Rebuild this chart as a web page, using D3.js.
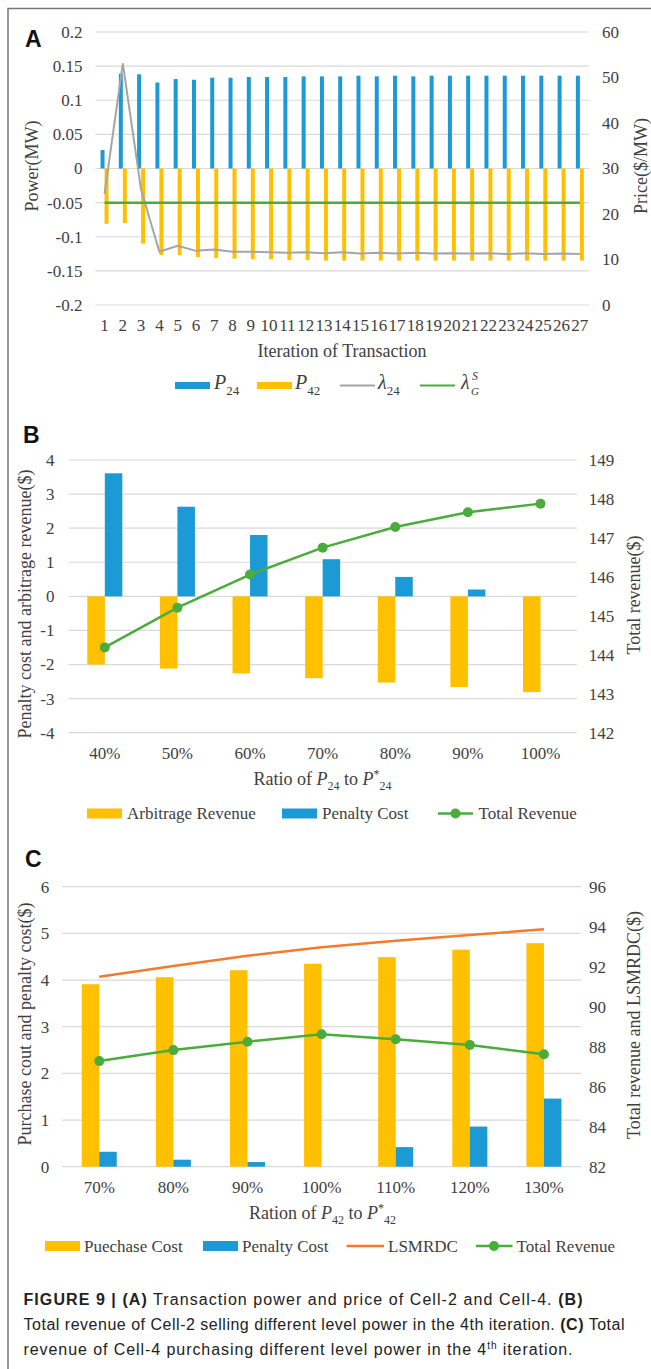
<!DOCTYPE html>
<html>
<head>
<meta charset="utf-8">
<script src="https://cdn.jsdelivr.net/npm/d3@7"></script>
<style>
  body { margin: 0; background: #fff; }
  svg { display: block; }
</style>
</head>
<body>
<div id="chart"></div>
<script>

// ---- panel A: transaction power and price per iteration
var iterations = ["1","2","3","4","5","6","7","8","9","10","11","12","13","14",
                  "15","16","17","18","19","20","21","22","23","24","25","26","27"];
var p24 = [0.027, 0.139, 0.138, 0.126, 0.131, 0.130, 0.133, 0.133, 0.134, 0.134, 0.134, 0.135, 0.135, 0.135,
           0.136, 0.135, 0.136, 0.135, 0.136, 0.136, 0.136, 0.136, 0.136, 0.136, 0.136, 0.136, 0.136];
var p42 = [-0.081, -0.080, -0.110, -0.127, -0.127, -0.130, -0.131, -0.132, -0.133, -0.133, -0.134, -0.134, -0.135, -0.135,
           -0.135, -0.135, -0.135, -0.135, -0.135, -0.135, -0.135, -0.135, -0.135, -0.135, -0.135, -0.135, -0.135];
var lambda24 = [24.4, 53.1, 25.3, 11.7, 13.0, 11.9, 12.2, 11.7, 11.7, 11.6, 11.5, 11.6, 11.4, 11.6,
                11.3, 11.5, 11.3, 11.5, 11.3, 11.4, 11.3, 11.4, 11.2, 11.4, 11.2, 11.3, 11.2];
var lambdaG = [22.5, 22.5, 22.5, 22.5, 22.5, 22.5, 22.5, 22.5, 22.5, 22.5, 22.5, 22.5, 22.5, 22.5,
               22.5, 22.5, 22.5, 22.5, 22.5, 22.5, 22.5, 22.5, 22.5, 22.5, 22.5, 22.5, 22.5];
var powerTicks = [-0.2, -0.15, -0.1, -0.05, 0, 0.05, 0.1, 0.15, 0.2];
var priceTicks = [0, 10, 20, 30, 40, 50, 60];

// ---- panel B: Cell-2 selling
var ratiosB = ["40%", "50%", "60%", "70%", "80%", "90%", "100%"];
var arbitrage = [-2.0, -2.12, -2.26, -2.4, -2.53, -2.66, -2.81];
var penaltyB = [3.61, 2.63, 1.80, 1.09, 0.57, 0.20, 0];
var totalB = [144.19, 145.21, 146.06, 146.75, 147.28, 147.66, 147.88];
var costTicksB = [-4, -3, -2, -1, 0, 1, 2, 3, 4];
var revTicksB = [142, 143, 144, 145, 146, 147, 148, 149];

// ---- panel C: Cell-4 purchasing
var ratiosC = ["70%", "80%", "90%", "100%", "110%", "120%", "130%"];
var purchase = [3.91, 4.06, 4.21, 4.35, 4.49, 4.65, 4.79];
var penaltyC = [0.32, 0.15, 0.10, 0, 0.42, 0.86, 1.46];
var lsmrdc = [91.5, 92.03, 92.55, 92.97, 93.3, 93.58, 93.87];
var totalC = [87.28, 87.83, 88.25, 88.62, 88.37, 88.09, 87.62];
var costTicksC = [0, 1, 2, 3, 4, 5, 6];
var revTicksC = [82, 84, 86, 88, 90, 92, 94, 96];


var W = 651, H = 1369;
var serif = "'Liberation Serif', 'Times New Roman', serif";
var sans = "'Liberation Sans', Arial, sans-serif";
var textCol = "#404040", gridCol = "#d9d9d9";
var blue = "#1b9ad6", gold = "#ffc000", gray = "#a5a5a5", green = "#4aac3c", orange = "#f47a2e";
var plain = function(d) { return String(d); };

var svg = d3.select("#chart").append("svg")
    .attr("width", W)
    .attr("height", H);

// frame (only top and left edges are visible in the crop)
svg.append("path")
    .attr("d", "M8,1369V8.5H651")
    .attr("fill", "none")
    .attr("stroke", "#777")
    .attr("stroke-width", 1.5);

function grid(y, ticks, x0, x1) {
    svg.append("g").selectAll("line")
        .data(ticks).enter()
        .append("line")
        .attr("x1", x0).attr("x2", x1)
        .attr("y1", function(t) { return y(t); })
        .attr("y2", function(t) { return y(t); })
        .attr("stroke", gridCol)
        .attr("stroke-width", 1.2);
}

function styleAxis(g) {
    g.attr("font-family", null).attr("font-size", null);
    g.select(".domain").remove();
    g.selectAll("text")
        .style("font-family", serif)
        .style("font-size", "17px")
        .attr("fill", textCol);
}

function vTitle(txt, x, y) {
    svg.append("text")
        .attr("transform", "translate(" + x + "," + y + ") rotate(-90)")
        .attr("text-anchor", "middle")
        .style("font-family", serif)
        .style("font-size", "18px")
        .attr("fill", textCol)
        .text(txt);
}

function panelLabel(txt, x, y) {
    svg.append("text")
        .attr("x", x).attr("y", y)
        .style("font-family", sans)
        .style("font-weight", "bold")
        .style("font-size", "23px")
        .attr("fill", "#111")
        .text(txt);
}

function legendText(txt, x, y) {
    svg.append("text")
        .attr("x", x).attr("y", y)
        .style("font-family", serif)
        .style("font-size", "17px")
        .attr("fill", textCol)
        .text(txt);
}

// x title with "P_ab to P*_ab"
function ratioTitle(prefix, sub, cx, y) {
    var t = svg.append("text")
        .attr("x", cx).attr("y", y)
        .attr("text-anchor", "middle")
        .style("font-family", serif)
        .style("font-size", "18px")
        .attr("fill", textCol);
    t.append("tspan").text(prefix);
    t.append("tspan").style("font-style", "italic").text("P");
    t.append("tspan").style("font-size", "12px").attr("dy", 5).text(sub);
    t.append("tspan").attr("dy", -5).text(" to ");
    t.append("tspan").style("font-style", "italic").text("P");
    t.append("tspan").style("font-size", "12px").attr("dy", -7).text("*");
    t.append("tspan").style("font-size", "12px").attr("dy", 12).text(sub);
}

// =============== PANEL A ===============
var xA = d3.scaleBand().domain(iterations).range([95.4, 589]);
var yA = d3.scaleLinear().domain([-0.2, 0.2]).range([305, 32]);
var yA2 = d3.scaleLinear().domain([0, 60]).range([305, 32]);
var cA = function(i) { return xA(iterations[i]) + xA.bandwidth() / 2; };
var bwA = 4;

panelLabel("A", 25, 47);
grid(yA, powerTicks, 95.4, 589);

svg.append("g").selectAll("rect")
    .data(p24).enter().append("rect")
    .attr("x", function(d, i) { return cA(i) - bwA; })
    .attr("y", function(d) { return yA(d); })
    .attr("width", bwA)
    .attr("height", function(d) { return yA(0) - yA(d); })
    .attr("fill", blue);

svg.append("g").selectAll("rect")
    .data(p42).enter().append("rect")
    .attr("x", function(d, i) { return cA(i); })
    .attr("y", yA(0))
    .attr("width", bwA)
    .attr("height", function(d) { return yA(d) - yA(0); })
    .attr("fill", gold);

var lineA = d3.line()
    .x(function(d, i) { return cA(i); })
    .y(function(d) { return yA2(d); });

svg.append("path").datum(lambda24)
    .attr("d", lineA).attr("fill", "none")
    .attr("stroke", gray).attr("stroke-width", 2);
svg.append("path").datum(lambdaG)
    .attr("d", lineA).attr("fill", "none")
    .attr("stroke", green).attr("stroke-width", 2.5);

styleAxis(svg.append("g").attr("transform", "translate(95.4,0)")
    .call(d3.axisLeft(yA).tickValues(powerTicks).tickSize(0).tickPadding(13).tickFormat(plain)));
styleAxis(svg.append("g").attr("transform", "translate(589,0)")
    .call(d3.axisRight(yA2).tickValues(priceTicks).tickSize(0).tickPadding(13).tickFormat(plain)));
styleAxis(svg.append("g").attr("transform", "translate(0,305)")
    .call(d3.axisBottom(xA).tickSize(0).tickPadding(14)));

svg.append("text")
    .attr("x", 342).attr("y", 357)
    .attr("text-anchor", "middle")
    .style("font-family", serif).style("font-size", "18px")
    .attr("fill", textCol)
    .text("Iteration of Transaction");
vTitle("Power(MW)", 38, 166);
vTitle("Price($/MW)", 647, 166);

// legend A
svg.append("rect").attr("x", 175).attr("y", 382).attr("width", 35).attr("height", 7).attr("fill", blue);
svg.append("rect").attr("x", 257).attr("y", 382).attr("width", 35).attr("height", 7).attr("fill", gold);
svg.append("line").attr("x1", 340).attr("x2", 375).attr("y1", 385.5).attr("y2", 385.5)
    .attr("stroke", gray).attr("stroke-width", 2);
svg.append("line").attr("x1", 420).attr("x2", 455).attr("y1", 385.5).attr("y2", 385.5)
    .attr("stroke", green).attr("stroke-width", 2);

function symLabel(sym, sub, x) {
    var t = svg.append("text")
        .attr("x", x).attr("y", 388.5)
        .style("font-family", serif).style("font-size", "20px")
        .attr("fill", textCol);
    t.append("tspan").style("font-style", "italic").text(sym);
    t.append("tspan").style("font-size", "13px").attr("dy", 6.5).text(sub);
}
symLabel("P", "24", 214);
symLabel("P", "42", 295);
symLabel("\u03bb", "24", 378);
svg.append("text").attr("x", 461).attr("y", 388.5)
    .style("font-family", serif).style("font-size", "20px").style("font-style", "italic")
    .attr("fill", textCol).text("\u03bb");
svg.append("text").attr("x", 472).attr("y", 380)
    .style("font-family", serif).style("font-size", "12px").style("font-style", "italic")
    .attr("fill", textCol).text("S");
svg.append("text").attr("x", 471).attr("y", 395)
    .style("font-family", serif).style("font-size", "11px").style("font-style", "italic")
    .attr("fill", textCol).text("G");

// =============== PANEL B ===============
var xB = d3.scaleBand().domain(ratiosB).range([68.5, 576.8]);
var yB = d3.scaleLinear().domain([-4, 4]).range([732.7, 460]);
var yB2 = d3.scaleLinear().domain([142, 149]).range([732.7, 460]);
var cB = function(i) { return xB(ratiosB[i]) + xB.bandwidth() / 2; };
var bwB = 17.5;

panelLabel("B", 23, 443);
grid(yB, costTicksB, 68.5, 576.8);

svg.append("g").selectAll("rect")
    .data(arbitrage).enter().append("rect")
    .attr("x", function(d, i) { return cB(i) - bwB; })
    .attr("y", yB(0))
    .attr("width", bwB)
    .attr("height", function(d) { return yB(d) - yB(0); })
    .attr("fill", gold);

svg.append("g").selectAll("rect")
    .data(penaltyB).enter().append("rect")
    .attr("x", function(d, i) { return cB(i); })
    .attr("y", function(d) { return yB(d); })
    .attr("width", bwB)
    .attr("height", function(d) { return yB(0) - yB(d); })
    .attr("fill", blue);

svg.append("path").datum(totalB)
    .attr("d", d3.line().x(function(d, i) { return cB(i); }).y(function(d) { return yB2(d); }))
    .attr("fill", "none").attr("stroke", green).attr("stroke-width", 2.5);
svg.append("g").selectAll("circle")
    .data(totalB).enter().append("circle")
    .attr("cx", function(d, i) { return cB(i); })
    .attr("cy", function(d) { return yB2(d); })
    .attr("r", 5)
    .attr("fill", green);

styleAxis(svg.append("g").attr("transform", "translate(68.5,0)")
    .call(d3.axisLeft(yB).tickValues(costTicksB).tickSize(0).tickPadding(14).tickFormat(plain)));
styleAxis(svg.append("g").attr("transform", "translate(576.8,0)")
    .call(d3.axisRight(yB2).tickValues(revTicksB).tickSize(0).tickPadding(12).tickFormat(plain)));
styleAxis(svg.append("g").attr("transform", "translate(0,732.7)")
    .call(d3.axisBottom(xB).tickSize(0).tickPadding(14)));

ratioTitle("Ratio of ", "24", 322.6, 785);
vTitle("Penalty cost and arbitrage revenue($)", 31, 604);
vTitle("Total revenue($)", 640, 595);

// legend B
svg.append("rect").attr("x", 87).attr("y", 808.5).attr("width", 35).attr("height", 10).attr("fill", gold);
legendText("Arbitrage Revenue", 127, 819);
svg.append("rect").attr("x", 282).attr("y", 808.5).attr("width", 35).attr("height", 10).attr("fill", blue);
legendText("Penalty Cost", 322, 819);
svg.append("line").attr("x1", 438).attr("x2", 473).attr("y1", 813.5).attr("y2", 813.5)
    .attr("stroke", green).attr("stroke-width", 2.5);
svg.append("circle").attr("cx", 455.5).attr("cy", 813.5).attr("r", 5).attr("fill", green);
legendText("Total Revenue", 478.5, 819);

// =============== PANEL C ===============
var xC = d3.scaleBand().domain(ratiosC).range([62.2, 581]);
var yC = d3.scaleLinear().domain([0, 6]).range([1166.7, 886.7]);
var yC2 = d3.scaleLinear().domain([82, 96]).range([1166.7, 886.7]);
var cC = function(i) { return xC(ratiosC[i]) + xC.bandwidth() / 2; };
var bwC = 17.5;

panelLabel("C", 25, 867);
grid(yC, costTicksC, 62.2, 581);

svg.append("g").selectAll("rect")
    .data(purchase).enter().append("rect")
    .attr("x", function(d, i) { return cC(i) - bwC; })
    .attr("y", function(d) { return yC(d); })
    .attr("width", bwC)
    .attr("height", function(d) { return yC(0) - yC(d); })
    .attr("fill", gold);

svg.append("g").selectAll("rect")
    .data(penaltyC).enter().append("rect")
    .attr("x", function(d, i) { return cC(i); })
    .attr("y", function(d) { return yC(d); })
    .attr("width", bwC)
    .attr("height", function(d) { return yC(0) - yC(d); })
    .attr("fill", blue);

var lineC = d3.line().x(function(d, i) { return cC(i); }).y(function(d) { return yC2(d); });
svg.append("path").datum(lsmrdc)
    .attr("d", lineC).attr("fill", "none").attr("stroke", orange).attr("stroke-width", 2.5);
svg.append("path").datum(totalC)
    .attr("d", lineC).attr("fill", "none").attr("stroke", green).attr("stroke-width", 2.5);
svg.append("g").selectAll("circle")
    .data(totalC).enter().append("circle")
    .attr("cx", function(d, i) { return cC(i); })
    .attr("cy", function(d) { return yC2(d); })
    .attr("r", 5)
    .attr("fill", green);

styleAxis(svg.append("g").attr("transform", "translate(62.2,0)")
    .call(d3.axisLeft(yC).tickValues(costTicksC).tickSize(0).tickPadding(13).tickFormat(plain)));
styleAxis(svg.append("g").attr("transform", "translate(581,0)")
    .call(d3.axisRight(yC2).tickValues(revTicksC).tickSize(0).tickPadding(8).tickFormat(plain)));
styleAxis(svg.append("g").attr("transform", "translate(0,1166.7)")
    .call(d3.axisBottom(xC).tickSize(0).tickPadding(14)));

ratioTitle("Ration of ", "42", 322.6, 1219);
vTitle("Purchase cout and penalty cost($)", 31, 1024);
vTitle("Total revenue and LSMRDC($)", 640, 1025);

// legend C
svg.append("rect").attr("x", 45).attr("y", 1241).attr("width", 35).attr("height", 10).attr("fill", gold);
legendText("Puechase Cost", 84, 1251.5);
svg.append("rect").attr("x", 203).attr("y", 1241).attr("width", 35).attr("height", 10).attr("fill", blue);
legendText("Penalty Cost", 242, 1251.5);
svg.append("line").attr("x1", 346.5).attr("x2", 384).attr("y1", 1246).attr("y2", 1246)
    .attr("stroke", orange).attr("stroke-width", 2.5);
legendText("LSMRDC", 388, 1251.5);
svg.append("line").attr("x1", 476).attr("x2", 512.5).attr("y1", 1246).attr("y2", 1246)
    .attr("stroke", green).attr("stroke-width", 2.5);
svg.append("circle").attr("cx", 494).attr("cy", 1246).attr("r", 5).attr("fill", green);
legendText("Total Revenue", 516.6, 1251.5);

// =============== CAPTION ===============
var capLines = [
    { y: 1305, len: 559, parts: [["FIGURE 9 | (A)", "b"], [" Transaction power and price of Cell-2 and Cell-4. ", ""], ["(B)", "b"]] },
    { y: 1330, len: 601, parts: [["Total revenue of Cell-2 selling different level power in the 4th iteration. ", ""], ["(C)", "b"], [" Total", ""]] },
    { y: 1355, len: 549, parts: [["revenue of Cell-4 purchasing different level power in the 4", ""], ["th", "sup"], [" iteration.", "after"]] }
];
capLines.forEach(function(line) {
    var t = svg.append("text")
        .attr("x", 23.5).attr("y", line.y)
        .style("font-family", sans)
        .style("font-size", "16px")
        .attr("fill", "#222")
        .attr("textLength", line.len)
        .attr("lengthAdjust", "spacing");
    line.parts.forEach(function(p) {
        var s = t.append("tspan").text(p[0]);
        if (p[1] === "b") s.style("font-weight", "bold");
        if (p[1] === "sup") s.style("font-size", "10px").attr("dy", -6);
        if (p[1] === "after") s.attr("dy", 6);
    });
});
</script>
</body>
</html>
